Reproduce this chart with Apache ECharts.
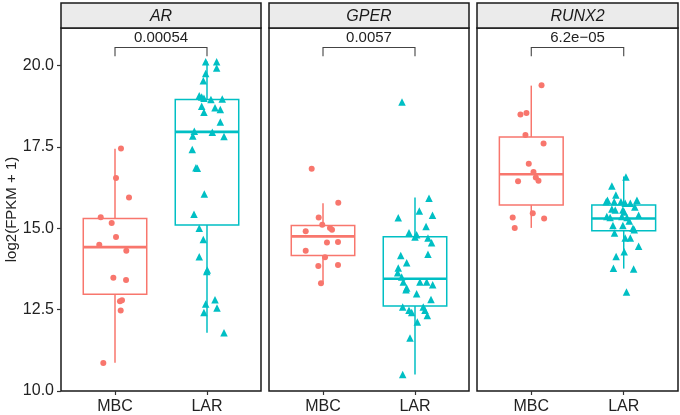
<!DOCTYPE html>
<html>
<head>
<meta charset="utf-8">
<script src="https://cdn.jsdelivr.net/npm/echarts@6/dist/echarts.min.js"></script>
<style>html,body{margin:0;padding:0;background:#fff;}#chart{width:680px;height:415px;}</style>
</head>
<body>
<div id="chart"></div>
<script>
// ---------- data ----------
const genes = ['AR', 'GPER', 'RUNX2'];
const groups = ['MBC', 'LAR'];
const pValues = ['0.00054', '0.0057', '6.2e\u221205'];
const yTicks = [10, 12.5, 15, 17.5, 20];

// box stats: [lower whisker, Q1, median, Q3, upper whisker]
const arMBCBox = [10.87, 12.97, 14.42, 15.30, 17.44];
const arLARBox = [11.79, 15.10, 17.96, 18.95, 20.12];
const gperMBCBox = [13.33, 14.16, 14.75, 15.08, 15.77];
const gperLARBox = [10.51, 12.61, 13.45, 14.74, 15.94];
const runx2MBCBox = [15.01, 15.71, 16.66, 17.80, 19.38];
const runx2LARBox = [13.76, 14.92, 15.30, 15.71, 16.59];

// points (values) and horizontal jitter (in category units)
const arMBC = [17.45, 16.54, 15.94, 15.34, 15.16, 14.73, 14.49, 14.31, 13.48, 13.41, 12.79, 12.76, 12.47, 10.86];
const arMBCJit = [0.065, 0.011, 0.152, -0.155, -0.036, 0.011, -0.171, 0.123, -0.018, 0.120, 0.076, 0.054, 0.062, -0.127];
const arLAR = [20.11, 20.11, 19.92, 19.75, 19.53, 19.07, 19.03, 18.99, 18.95, 18.97, 18.75, 18.56, 18.70, 18.65, 18.26, 17.95, 17.98, 17.83, 17.82, 17.42, 16.86, 16.84, 16.05, 15.43, 15.00, 14.65, 14.12, 13.72, 13.67, 12.80, 12.67, 12.55, 12.41, 11.79];
const arLARJit = [-0.014, 0.105, 0.105, -0.014, -0.040, -0.084, -0.058, -0.033, 0.043, 0.166, -0.058, -0.033, 0.087, 0.145, 0.145, 0.058, -0.138, -0.155, 0.185, -0.160, -0.120, -0.105, -0.029, -0.141, -0.084, -0.040, -0.084, 0.003, -0.003, 0.087, -0.014, 0.109, -0.033, 0.185];
const gperMBC = [16.83, 15.78, 15.33, 15.11, 15.01, 14.95, 14.91, 14.58, 14.56, 14.31, 14.11, 13.87, 13.84, 13.31];
const gperMBCJit = [-0.123, 0.166, -0.047, -0.008, 0.076, 0.098, -0.188, 0.163, 0.043, -0.188, 0.022, 0.163, -0.051, -0.022];
const gperLAR = [18.88, 15.92, 15.53, 15.32, 15.40, 15.05, 14.86, 14.73, 14.80, 14.70, 14.55, 14.16, 14.20, 13.94, 13.78, 13.63, 13.50, 13.35, 13.35, 13.35, 13.26, 13.16, 13.11, 12.99, 12.81, 12.58, 12.58, 12.48, 12.48, 12.41, 12.32, 12.12, 11.63, 10.51];
const gperLARJit = [-0.141, 0.152, 0.047, -0.182, 0.19, 0.120, -0.065, 0.0, 0.018, 0.141, 0.18, -0.155, 0.141, -0.090, -0.182, -0.188, -0.145, -0.127, 0.054, 0.127, 0.192, -0.090, -0.098, 0.018, 0.174, -0.134, 0.090, -0.065, 0.109, -0.036, 0.134, 0.025, -0.054, -0.134];
const runx2MBC = [19.39, 18.54, 18.49, 17.86, 17.60, 16.98, 16.73, 16.56, 16.46, 16.44, 15.46, 15.33, 15.30, 15.01];
const runx2MBCJit = [0.111, -0.052, -0.117, -0.063, 0.133, -0.027, 0.024, 0.049, 0.078, -0.143, 0.016, -0.201, 0.139, -0.179];
const runx2LAR = [16.57, 16.30, 16.02, 15.86, 15.81, 15.81, 15.81, 15.77, 15.86, 15.77, 15.65, 15.59, 15.56, 15.56, 15.50, 15.36, 15.33, 15.36, 15.40, 15.33, 15.22, 15.08, 15.08, 15.00, 14.95, 14.85, 14.70, 14.70, 14.45, 14.28, 14.13, 13.77, 13.75, 13.04];
const runx2LARJit = [0.024, -0.128, -0.085, -0.176, -0.190, -0.103, -0.030, 0.071, 0.143, 0.016, 0.120, -0.128, -0.092, -0.009, 0.005, -0.183, -0.147, -0.020, 0.161, 0.035, 0.060, -0.117, -0.009, 0.100, 0.114, -0.100, 0.016, 0.071, 0.161, 0.005, -0.082, -0.111, 0.107, 0.030];

// ---------- layout / style ----------
const colors = ['#F8766D', '#00BFC4'];
const FONT = 'Liberation Sans, Arial, Helvetica, sans-serif';
const panels = [
  { left: 61, width: 200 },
  { left: 269, width: 200 },
  { left: 477, width: 201 }
];
const gridTop = 28, gridHeight = 364.7;
const xMin = -0.587, xMax = 1.587;
const yMin = 10, yMax = 21.15;
const boxHalf = 0.345;
const bracketTop = 20.55, bracketFoot = 20.28;

const boxSets = [[arMBCBox, arLARBox], [gperMBCBox, gperLARBox], [runx2MBCBox, runx2LARBox]];
const pointSets = [
  [[arMBC, arMBCJit], [arLAR, arLARJit]],
  [[gperMBC, gperMBCJit], [gperLAR, gperLARJit]],
  [[runx2MBC, runx2MBCJit], [runx2LAR, runx2LARJit]]
];

const grid = [], xAxis = [], yAxis = [], series = [], graphic = [];

panels.forEach((p, i) => {
  grid.push({
    left: p.left, top: gridTop, width: p.width, height: gridHeight,
    show: true, backgroundColor: '#fff', borderColor: '#1a1a1a', borderWidth: 1.5, z: 0
  });
  xAxis.push({
    type: 'value', gridIndex: i, min: xMin, max: xMax, position: 'bottom',
    splitLine: { show: false },
    axisLine: { show: false, onZero: false },
    axisTick: { show: true, customValues: [0, 1], length: 4, lineStyle: { color: '#333', width: 1.2 } },
    axisLabel: {
      show: true, customValues: [0, 1], margin: 8,
      formatter: v => groups[Math.round(v)],
      color: '#222', fontSize: 16, fontFamily: FONT
    }
  });
  yAxis.push({
    type: 'value', gridIndex: i, min: yMin, max: yMax, position: 'left',
    show: i === 0,
    name: i === 0 ? 'log2(FPKM + 1)' : '',
    nameLocation: 'middle', nameGap: 42, nameRotate: 90,
    nameTextStyle: { color: '#222', fontSize: 15, fontFamily: FONT },
    splitLine: { show: false },
    axisLine: { show: false, onZero: false },
    axisTick: { show: true, customValues: yTicks, length: 4, lineStyle: { color: '#333', width: 1.2 } },
    axisLabel: {
      show: true, customValues: yTicks, margin: 7,
      formatter: v => v.toFixed(1),
      color: '#222', fontSize: 16, fontFamily: FONT
    }
  });

  // boxes
  series.push({
    type: 'custom', xAxisIndex: i, yAxisIndex: i, z: 2,
    data: boxSets[i].map((b, g) => [g].concat(b)),
    renderItem: (params, api) => {
      const g = api.value(0);
      const lo = api.value(1), q1 = api.value(2), med = api.value(3), q3 = api.value(4), hi = api.value(5);
      const tl = api.coord([g - boxHalf, q3]);
      const br = api.coord([g + boxHalf, q1]);
      const ml = api.coord([g - boxHalf, med]);
      const mr = api.coord([g + boxHalf, med]);
      const pHi = api.coord([g, hi]), pQ3 = api.coord([g, q3]);
      const pQ1 = api.coord([g, q1]), pLo = api.coord([g, lo]);
      const c = colors[g];
      return {
        type: 'group',
        children: [
          { type: 'line', shape: { x1: pHi[0], y1: pHi[1], x2: pQ3[0], y2: pQ3[1] }, style: { stroke: c, lineWidth: 1.5 } },
          { type: 'line', shape: { x1: pQ1[0], y1: pQ1[1], x2: pLo[0], y2: pLo[1] }, style: { stroke: c, lineWidth: 1.5 } },
          { type: 'rect', shape: { x: tl[0], y: tl[1], width: br[0] - tl[0], height: br[1] - tl[1] }, style: { fill: '#fff', stroke: c, lineWidth: 1.5 } },
          { type: 'line', shape: { x1: ml[0], y1: ml[1], x2: mr[0], y2: mr[1] }, style: { stroke: c, lineWidth: 2.6 } }
        ]
      };
    }
  });

  // points
  pointSets[i].forEach(([vals, jit], g) => {
    series.push({
      type: 'scatter', xAxisIndex: i, yAxisIndex: i, z: 3,
      symbol: g === 0 ? 'circle' : 'triangle',
      symbolSize: g === 0 ? 6 : 7.5,
      itemStyle: { color: colors[g], opacity: 1 },
      silent: true,
      data: vals.map((v, k) => [g + jit[k], v])
    });
  });

  // significance bracket
  series.push({
    type: 'custom', xAxisIndex: i, yAxisIndex: i, z: 4,
    data: [[0, 1, bracketTop, bracketFoot, i]],
    renderItem: (params, api) => {
      const a = api.coord([api.value(0), api.value(3)]);
      const b = api.coord([api.value(0), api.value(2)]);
      const c = api.coord([api.value(1), api.value(2)]);
      const d = api.coord([api.value(1), api.value(3)]);
      return {
        type: 'group',
        children: [
          { type: 'polyline', shape: { points: [a, b, c, d] }, style: { stroke: '#444', lineWidth: 1.1, fill: null } },
          { type: 'text', x: (b[0] + c[0]) / 2, y: b[1] - 2,
            style: { text: pValues[api.value(4)], fill: '#222', font: '15px ' + FONT, textAlign: 'center', textVerticalAlign: 'bottom' } }
        ]
      };
    }
  });

  // strip
  graphic.push({
    type: 'rect', z: 10,
    shape: { x: p.left, y: 3, width: p.width, height: gridTop - 3 },
    style: { fill: '#EBEBEB', stroke: '#1a1a1a', lineWidth: 1.5 }
  });
  graphic.push({
    type: 'text', z: 11, x: p.left + p.width / 2, y: (3 + gridTop) / 2 + 1,
    style: { text: genes[i], font: 'italic 16px ' + FONT, fill: '#1a1a1a', textAlign: 'center', textVerticalAlign: 'middle' }
  });
});

const chart = echarts.init(document.getElementById('chart'), null, { renderer: 'canvas' });
chart.setOption({
  animation: false,
  backgroundColor: '#fff',
  grid, xAxis, yAxis, series, graphic
});
</script>
</body>
</html>
